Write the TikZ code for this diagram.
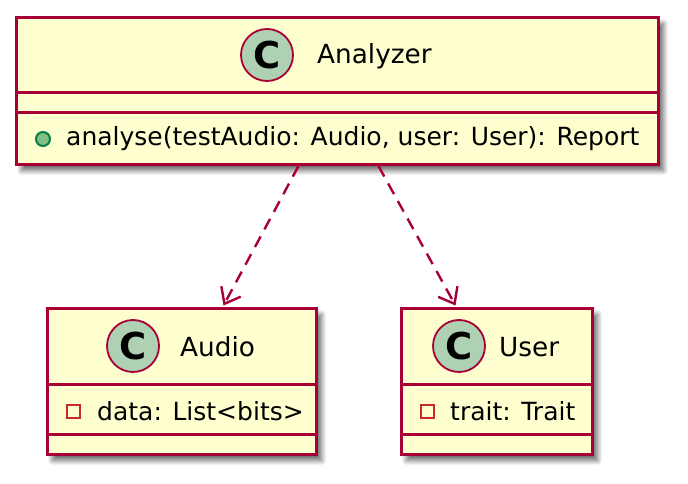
\documentclass[tikz,border=0pt]{standalone}
\usepackage{fontspec}
\setmainfont{DejaVu Sans}
\usetikzlibrary{arrows.meta,shadows.blur}
\definecolor{umlfill}{HTML}{FEFECE}
\definecolor{umlborder}{HTML}{A80036}
\definecolor{cfill}{HTML}{ADD1B2}
\definecolor{pubfill}{HTML}{84BE84}
\definecolor{publine}{HTML}{038048}
\definecolor{privline}{HTML}{C82930}
\tikzset{
  classbox/.style={draw=umlborder, fill=umlfill, line width=3pt, rectangle,
    anchor=north west, inner sep=0pt,
    blur shadow={shadow xshift=5pt, shadow yshift=-6pt, shadow blur steps=10, shadow blur radius=5pt, shadow opacity=60}},
  sepline/.style={draw=umlborder, line width=3pt},
  cicon/.style={circle, draw=umlborder, fill=cfill, line width=1.8pt, minimum size=52pt, inner sep=0pt,
    font=\fontsize{37}{37}\selectfont\bfseries},
  ttl/.style={anchor=west, inner sep=0pt, font=\fontsize{26.3}{26.3}\selectfont},
  txt/.style={anchor=west, inner sep=0pt, font=\fontsize{25}{25}\selectfont},
  pubicon/.style={circle, draw=publine, fill=pubfill, line width=2pt, minimum size=14pt, inner sep=0pt},
  privicon/.style={rectangle, draw=privline, line width=2pt, minimum size=13pt, inner sep=0pt},
  dep/.style={draw=umlborder, line width=2.4pt, dash pattern=on 12pt off 8pt,
    -{Straight Barb[length=14pt,width=22pt,line width=2.4pt]}}
}
\begin{document}
\begin{tikzpicture}[x=1pt,y=-1pt]
\useasboundingbox (0,0) rectangle (688,484);
% Analyzer
\node[classbox, minimum width=642pt, minimum height=147pt] (analyzer) at (15,16) {};
\draw[sepline] (15,93) -- (657,93);
\draw[sepline] (15,113) -- (657,113);
\node[cicon] (ca) at (267,55) {C};
\node[ttl] (tan) at (317,56) {Analyzer};
\node[pubicon] (pa) at (43,139) {};
\node[txt] (ma) at (66,139) {analyse(testAudio: Audio, user: User): Report};
% Audio
\node[classbox, minimum width=269pt, minimum height=146pt] (audio) at (46,307) {};
\draw[sepline] (46,384) -- (315,384);
\draw[sepline] (46,434) -- (315,434);
\node[cicon] (cau) at (133,346) {C};
\node[ttl] (tau) at (180,347) {Audio};
\node[privicon] (pau) at (73,411) {};
\node[txt] (fau) at (97,411) {data: List<bits>};
% User
\node[classbox, minimum width=191pt, minimum height=146pt] (user) at (400,307) {};
\draw[sepline] (400,384) -- (591,384);
\draw[sepline] (400,434) -- (591,434);
\node[cicon] (cu) at (459,346) {C};
\node[ttl] (tu) at (499,347) {User};
\node[privicon] (pu) at (427,411) {};
\node[txt] (fu) at (450,411) {trait: Trait};
% dependencies
\draw[dep] ([xshift=-39pt]analyzer.south) -- ([xshift=41.5pt,yshift=1.5pt]audio.north);
\draw[dep] ([xshift=41pt]analyzer.south) -- ([xshift=-41.5pt,yshift=1.5pt]user.north);
\end{tikzpicture}
\end{document}
